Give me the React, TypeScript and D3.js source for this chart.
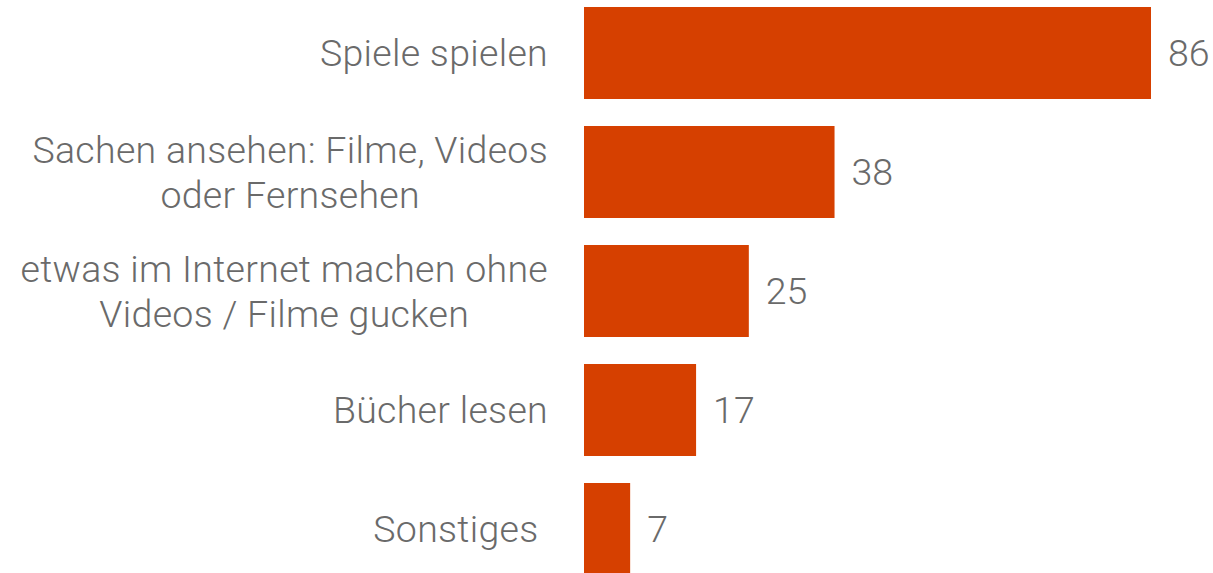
import { useRef, useEffect } from 'react'
import * as d3 from 'd3'

const categories = [
  'Spiele spielen',
  'Sachen ansehen: Filme, Videos\noder Fernsehen',
  'etwas im Internet machen ohne\nVideos / Filme gucken',
  'Bücher lesen',
  'Sonstiges ',
]
const values = [86, 38, 25, 17, 7]

export default function App() {
  const svgRef = useRef<SVGSVGElement>(null)

  useEffect(() => {
    const w = 1213
    const h = 573
    const svg = d3.select(svgRef.current)
    svg.selectAll('*').remove()

    // scales
    const x = d3.scaleLinear().domain([0, 86]).range([584, 1151])
    const y = d3.scaleBand<number>()
      .domain(d3.range(categories.length))
      .range([-6.5, 588.5])
      .paddingInner(0.227)
      .paddingOuter(0.1135)

    const font = 'Roboto, sans-serif'
    const size = 37.5

    // bars
    svg.selectAll('rect.bar')
      .data(values)
      .join('rect')
        .attr('class', 'bar')
        .attr('x', x(0))
        .attr('y', (d, i) => y(i)!)
        .attr('width', d => x(d) - x(0))
        .attr('height', y.bandwidth())
        .attr('fill', '#d64000')

    // value labels
    svg.selectAll('text.val')
      .data(values)
      .join('text')
        .attr('class', 'val')
        .attr('x', d => x(d) + 17)
        .attr('y', (d, i) => y(i)! + y.bandwidth() / 2)
        .attr('dy', '0.35em')
        .attr('font-family', font)
        .attr('font-weight', 300)
        .attr('font-size', size)
        .attr('fill', '#6a6a6a')
        .text(d => d)

    // category labels, lines centered, block right-aligned
    const lineH = 45
    categories.forEach((c, i) => {
      const lines = c.split('\n')
      const g = svg.append('g')
      const cy = y(i)! + y.bandwidth() / 2
      const texts = g.selectAll('text')
        .data(lines)
        .join('text')
          .attr('font-family', font)
          .attr('font-weight', 300)
          .attr('font-size', size)
          .attr('letter-spacing', 0.3)
          .attr('fill', '#6a6a6a')
          .attr('text-anchor', 'middle')
          .style('white-space', 'pre')
          .attr('y', (d, j) => cy + (j - (lines.length - 1) / 2) * lineH)
          .attr('dy', '0.35em')
          .text(d => d)
      let maxW = 0
      texts.each(function () {
        maxW = Math.max(maxW, (this as SVGTextElement).getComputedTextLength())
      })
      texts.attr('x', 548 - maxW / 2)
    })

    svg.attr('width', w).attr('height', h)
  }, [])

  return (
    <svg ref={svgRef} style={{ position: 'absolute', left: 0, top: 0, background: '#fff' }}></svg>
  )
}
